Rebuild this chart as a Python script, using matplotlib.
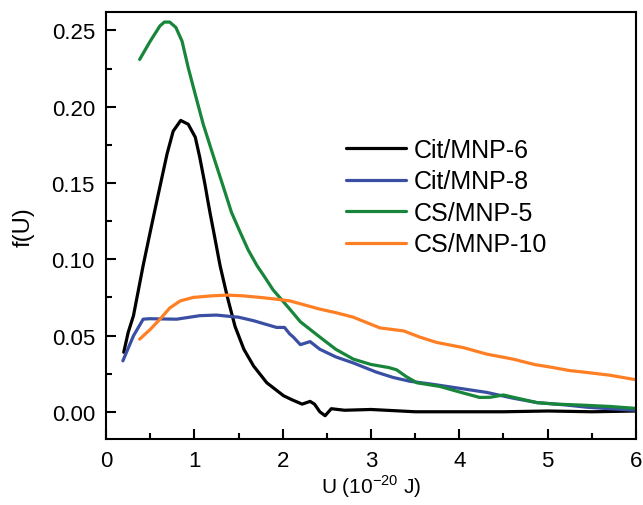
import matplotlib
matplotlib.use("Agg")
import matplotlib.pyplot as plt
from matplotlib.ticker import MultipleLocator, FormatStrFormatter

plt.rcParams['font.family'] = ['Liberation Sans', 'DejaVu Sans']
plt.rcParams['mathtext.fontset'] = 'custom'
plt.rcParams['mathtext.rm'] = 'Liberation Sans'

# values
cit6_x = [0.20, 0.25, 0.31, 0.42, 0.50, 0.57, 0.63, 0.69, 0.76, 0.845, 0.93, 1.01, 1.06, 1.12, 1.15,
          1.18, 1.22, 1.29, 1.37, 1.46, 1.56, 1.67, 1.82, 2.01, 2.10, 2.22, 2.31, 2.36, 2.42, 2.48,
          2.55, 2.70, 3.00, 3.50, 4.00, 4.50, 5.00, 5.50, 6.00]
cit6_y = [0.039, 0.052, 0.063, 0.096, 0.118, 0.137, 0.153, 0.169, 0.184, 0.191, 0.1885, 0.180, 0.167,
          0.149, 0.139, 0.1295, 0.1175, 0.096, 0.076, 0.056, 0.041, 0.030, 0.019, 0.0105, 0.008, 0.005,
          0.0068, 0.005, 0.000, -0.0026, 0.002, 0.001, 0.0015, 0.000, 0.000, 0.000, 0.0005, 0.000, 0.0005]

cit8_x = [0.19, 0.31, 0.42, 0.49, 0.80, 1.06, 1.25, 1.37, 1.50, 1.67, 1.93, 2.02, 2.08, 2.12,
          2.20, 2.31, 2.42, 2.60, 2.80, 3.06, 3.25, 3.44, 3.70, 3.93, 4.31, 4.60, 4.88, 5.20,
          5.44, 5.70, 6.00]
cit8_y = [0.0334, 0.0498, 0.0607, 0.061, 0.0607, 0.063, 0.0634, 0.0627, 0.062, 0.0597, 0.0553, 0.0553,
          0.051, 0.049, 0.044, 0.046, 0.041, 0.036, 0.032, 0.026, 0.0225, 0.020, 0.018, 0.016, 0.0127,
          0.009, 0.006, 0.0045, 0.003, 0.002, 0.001]

cs5_x = [0.38, 0.50, 0.61, 0.66, 0.72, 0.79, 0.86, 0.93, 1.01, 1.10, 1.22, 1.33, 1.42, 1.52, 1.61, 1.71,
         1.80, 1.89, 2.08, 2.20, 2.42, 2.60, 2.80, 3.00, 3.10, 3.20, 3.29, 3.40, 3.52, 3.78, 4.00,
         4.23, 4.35, 4.50, 4.65, 4.88, 5.10, 5.37, 5.70, 6.00]
cs5_y = [0.231, 0.243, 0.253, 0.2555, 0.2555, 0.252, 0.243, 0.2256, 0.208, 0.1885, 0.1667, 0.147, 0.1307,
         0.1175, 0.106, 0.0957, 0.088, 0.080, 0.0673, 0.059, 0.049, 0.041, 0.0345, 0.031, 0.030, 0.029,
         0.0275, 0.023, 0.019, 0.0166, 0.013, 0.0094, 0.0095, 0.011, 0.009, 0.006, 0.005, 0.0044, 0.0035,
         0.0022]

cs10_x = [0.38, 0.50, 0.61, 0.72, 0.84, 0.99, 1.20, 1.37, 1.55, 1.74, 1.90, 2.08, 2.25, 2.42, 2.60,
          2.80, 3.10, 3.37, 3.55, 3.74, 4.05, 4.31, 4.61, 4.85, 5.06, 5.25, 5.44, 5.70, 6.00]
cs10_y = [0.0476, 0.054, 0.0607, 0.068, 0.0727, 0.075, 0.076, 0.0765, 0.076, 0.075, 0.074, 0.0727,
          0.070, 0.0673, 0.065, 0.062, 0.055, 0.053, 0.049, 0.0455, 0.042, 0.0378, 0.0345, 0.031,
          0.029, 0.027, 0.0258, 0.024, 0.021]

series = [
    (cit6_x, cit6_y, 'Cit/MNP-6', '#000000'),
    (cit8_x, cit8_y, 'Cit/MNP-8', '#3a4fa3'),
    (cs5_x, cs5_y, 'CS/MNP-5', '#17853a'),
    (cs10_x, cs10_y, 'CS/MNP-10', '#ff7f24'),
]

fig = plt.figure(figsize=(6.43, 5.06), dpi=100)
ax = fig.add_axes([0.165, 0.130, 0.824, 0.844])

for xs, ys, name, col in series:
    ax.plot(xs, ys, color=col, lw=2.3, label=name, solid_capstyle='round', solid_joinstyle='round')

ax.set_xlim(0, 6)
ax.set_ylim(-0.018, 0.262)
ax.xaxis.set_major_locator(MultipleLocator(1))
ax.xaxis.set_minor_locator(MultipleLocator(0.5))
ax.yaxis.set_major_locator(MultipleLocator(0.05))
ax.yaxis.set_minor_locator(MultipleLocator(0.025))
ax.yaxis.set_major_formatter(FormatStrFormatter('%.2f'))

ax.tick_params(which='both', direction='in', width=1.5, labelsize=16, pad=8)
ax.tick_params(which='major', length=7)
ax.tick_params(which='minor', length=4)
for s in ax.spines.values():
    s.set_linewidth(1.5)

ax.set_xlabel(r'U (10$^{\mathregular{-20}}$ J)', fontsize=15, labelpad=1)
ax.set_ylabel('f(U)', fontsize=17, labelpad=12)

ax.legend(loc='upper left', bbox_to_anchor=(0.43, 0.735), frameon=False, fontsize=18,
          handlelength=2.4, handletextpad=0.3, labelspacing=0.3, borderpad=0)

fig.savefig('out.png', dpi=100)
